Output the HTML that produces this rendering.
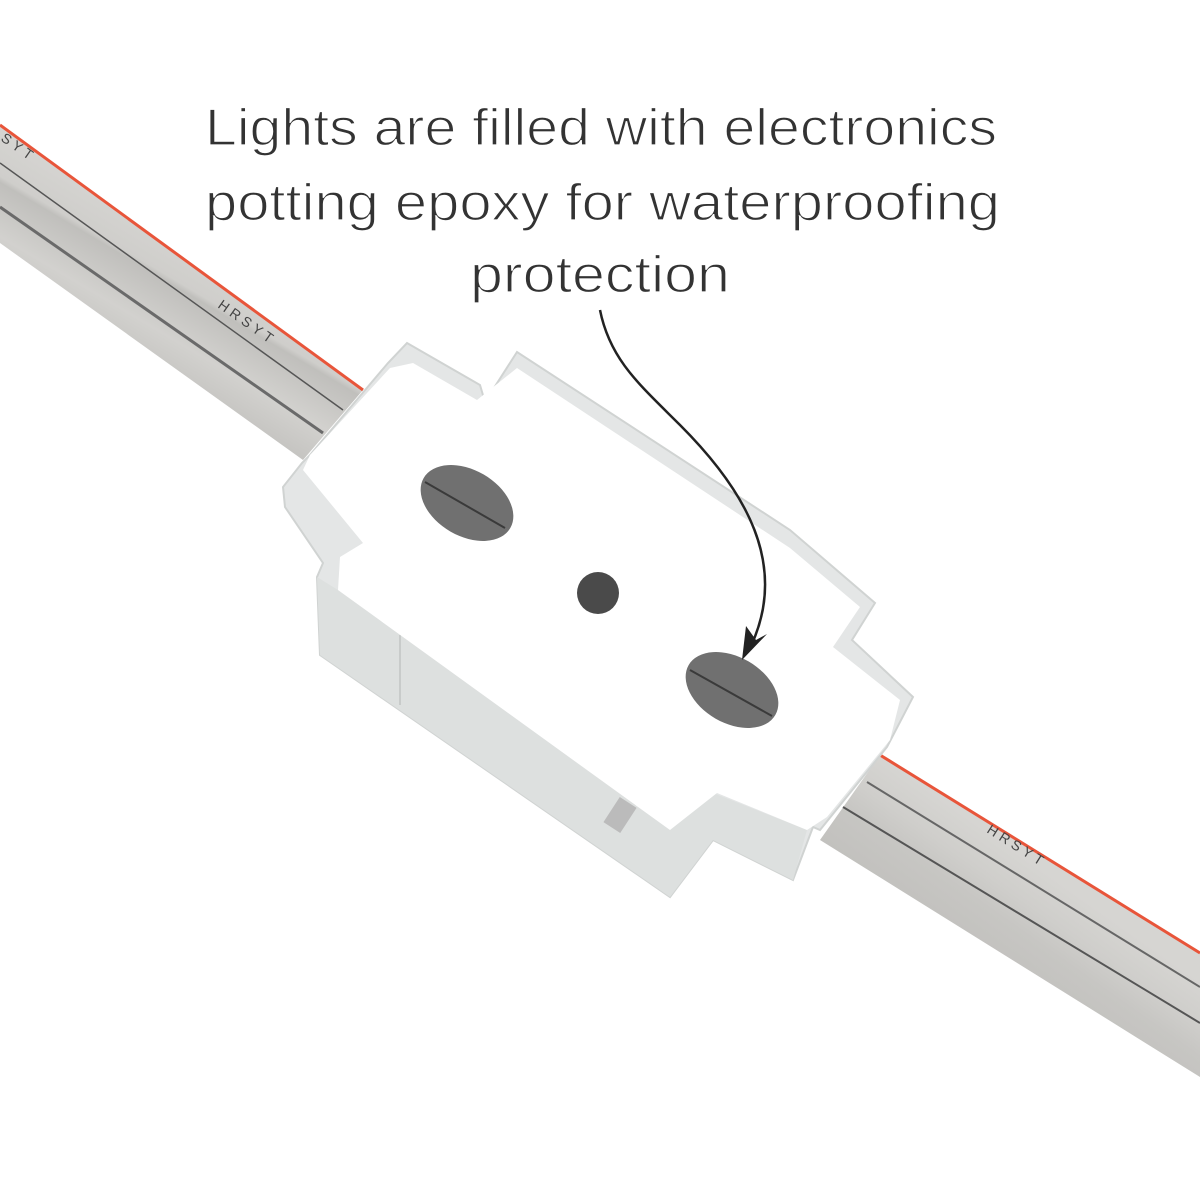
<!DOCTYPE html>
<html><head><meta charset="utf-8"><style>body{margin:0;background:#fff}svg{display:block}</style></head><body>
<svg width="1200" height="1200" viewBox="0 0 1200 1200" xmlns="http://www.w3.org/2000/svg">
<defs>
<linearGradient id="cab" gradientUnits="userSpaceOnUse" x1="0" y1="125" x2="-70" y2="243">
<stop offset="0" stop-color="#d6d5d2"/><stop offset="0.32" stop-color="#cfcecb"/><stop offset="0.36" stop-color="#c0bfbc"/><stop offset="0.7" stop-color="#d2d1ce"/><stop offset="1" stop-color="#c4c3c0"/>
</linearGradient>
<linearGradient id="cab2" gradientUnits="userSpaceOnUse" x1="880" y1="755" x2="820" y2="840">
<stop offset="0" stop-color="#d6d5d2"/><stop offset="0.35" stop-color="#cfcecb"/><stop offset="0.6" stop-color="#c7c6c3"/><stop offset="1" stop-color="#c2c1be"/>
</linearGradient>
</defs>
<!-- left cable -->
<polygon points="0,125 363,390 303,460 0,243" fill="url(#cab)"/>
<line x1="0" y1="125" x2="363" y2="390" stroke="#e8553a" stroke-width="3"/>
<line x1="0" y1="163" x2="343" y2="410" stroke="#555" stroke-width="1.5"/>
<line x1="0" y1="207" x2="323" y2="433" stroke="#6a6a6a" stroke-width="3"/>
<!-- right cable -->
<polygon points="880,755 1200,953 1200,1077 820,840" fill="url(#cab2)"/>
<line x1="880" y1="755" x2="1200" y2="953" stroke="#e8553a" stroke-width="3"/>
<line x1="867" y1="782" x2="1200" y2="987" stroke="#666" stroke-width="2"/>
<line x1="843" y1="807" x2="1200" y2="1023" stroke="#555" stroke-width="2"/>
<text x="0" y="0" transform="translate(217,307) rotate(35)" font-family="Liberation Sans, sans-serif" font-size="14" fill="#444" letter-spacing="4">HRSYT</text>
<text x="0" y="0" transform="translate(0,140) rotate(35)" font-family="Liberation Sans, sans-serif" font-size="14" fill="#444" letter-spacing="4">SYT</text>
<text x="0" y="0" transform="translate(986,832) rotate(32)" font-family="Liberation Sans, sans-serif" font-size="14" fill="#444" letter-spacing="4">HRSYT</text>
<!-- module case -->
<polygon points="407,343 480,385 485,402 517,352 790,530 875,603 852,640 913,697 887,747 820,830 813,827 793,880 713,840 670,897 320,655 317,577 323,563 285,507 283,487 302,463 310,455 388,363" fill="#e4e6e6" stroke="#d0d3d2" stroke-width="2"/>
<polygon points="317,577 338,590 670,830 713,793 807,830 793,880 713,840 670,897 320,655" fill="#dde0df"/>
<line x1="400" y1="635" x2="400" y2="705" stroke="#c8cbca" stroke-width="2"/>
<rect x="610" y="800" width="20" height="30" fill="#bbb" transform="rotate(33 620 815)"/>
<!-- top face -->
<polygon points="413,363 477,400 517,368 790,548 860,607 833,647 900,700 890,740 827,817 807,830 717,793 670,830 338,590 340,557 363,543 303,470 310,455 390,368" fill="#fff"/>
<!-- holes -->
<ellipse cx="467" cy="503" rx="50" ry="33" transform="rotate(30 467 503)" fill="#707070"/>
<line x1="425" y1="482" x2="505" y2="528" stroke="#3a3a3a" stroke-width="2"/>
<circle cx="598" cy="593" r="21" fill="#4a4a4a"/>
<ellipse cx="732" cy="690" rx="50" ry="33" transform="rotate(30 732 690)" fill="#707070"/>
<line x1="690" y1="670" x2="772" y2="716" stroke="#3a3a3a" stroke-width="2"/>
<!-- arrow -->
<path d="M600,310 C610,360 640,385 680,425 C745,490 790,565 750,648" fill="none" stroke="#222" stroke-width="2.5"/>
<polygon points="742,660 746,626 756,640 767,634" fill="#222"/>
<!-- text -->
<g font-family="Liberation Sans, sans-serif" font-size="52" fill="#333" stroke="#fff" stroke-width="1.3">
<text x="205" y="145" textLength="792" lengthAdjust="spacingAndGlyphs">Lights are filled with electronics</text>
<text x="205" y="220" textLength="795" lengthAdjust="spacingAndGlyphs">potting epoxy for waterproofing</text>
<text x="470" y="292" textLength="260" lengthAdjust="spacingAndGlyphs">protection</text>
</g>
</svg>
</body></html>
